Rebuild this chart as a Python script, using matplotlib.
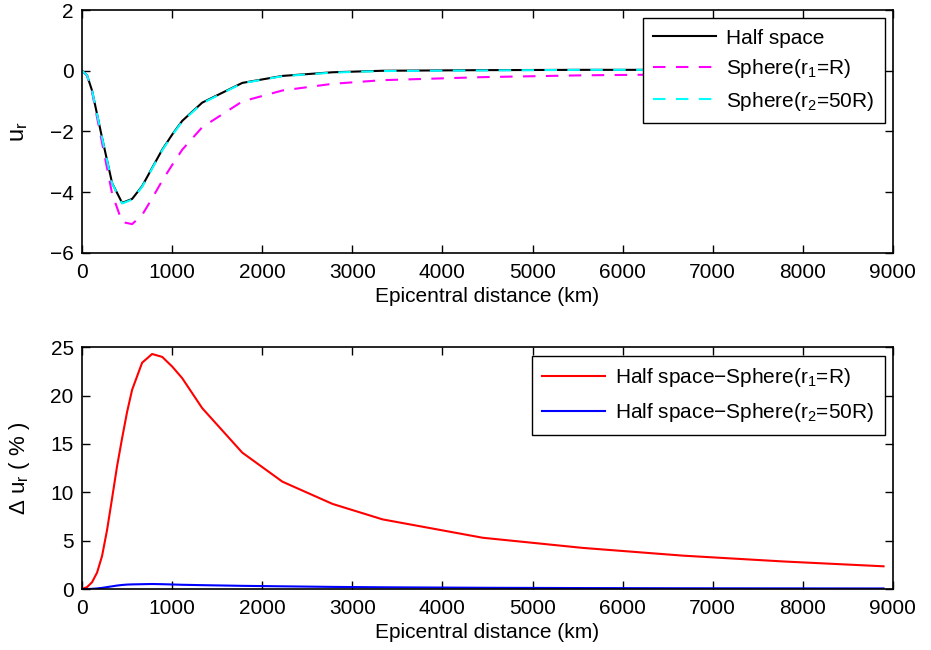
import matplotlib
matplotlib.use("Agg")
import matplotlib.pyplot as plt

plt.rcParams["font.family"] = ["Liberation Sans", "DejaVu Sans"]
plt.rcParams["mathtext.fontset"] = "custom"
plt.rcParams["mathtext.rm"] = "Liberation Sans"
plt.rcParams["mathtext.it"] = "Liberation Sans"

# epicentral distance (km), sampled at whole degrees
dist_km = [0, 55.6, 111, 222, 334, 445, 556, 667, 778, 890, 1001, 1112,
           1334, 1779, 2224, 2780, 3336, 4448, 5560, 6672, 7784, 8896]

# radial displacement u_r
u_half = [0, -0.15, -0.65, -2.2, -3.7, -4.35, -4.22, -3.8, -3.2, -2.6, -2.1,
          -1.65, -1.05, -0.4, -0.17, -0.05, 0.0, 0.02, 0.03, 0.03, 0.02, 0.0]
u_sphere_r1 = [0, -0.16, -0.69, -2.37, -4.05, -4.98, -5.05, -4.75, -4.2,
               -3.62, -3.1, -2.6, -1.86, -1.01, -0.65, -0.43, -0.31, -0.21,
               -0.15, -0.12, -0.1, -0.08]
u_sphere_r2 = [0, -0.15, -0.65, -2.2, -3.71, -4.37, -4.24, -3.82, -3.22,
               -2.62, -2.12, -1.67, -1.07, -0.41, -0.18, -0.06, -0.01, 0.01,
               0.03, 0.03, 0.02, 0.0]

# relative difference (%), finer sampling near the source
dist_diff_km = [0, 55.6, 111, 167, 222, 278, 334, 389, 445, 500, 556, 667,
                778, 890, 1001, 1112, 1334, 1779, 2224, 2780, 3336, 4448,
                5560, 6672, 7784, 8896]
d_r1 = [0, 0.2, 0.7, 1.7, 3.4, 6.1, 9.4, 12.7, 15.6, 18.3, 20.6, 23.4,
        24.3, 24.0, 23.0, 21.8, 18.7, 14.1, 11.1, 8.8, 7.2, 5.3, 4.25, 3.45,
        2.85, 2.35]
d_r2 = [0, 0.0, 0.02, 0.06, 0.12, 0.2, 0.28, 0.36, 0.42, 0.46, 0.48, 0.5,
        0.52, 0.5, 0.47, 0.44, 0.4, 0.33, 0.28, 0.22, 0.18, 0.13, 0.1, 0.08,
        0.07, 0.06]

fig = plt.figure(figsize=(9.31, 6.5), dpi=100)
ax1 = fig.add_axes([0.0881, 0.6108, 0.871, 0.3738])
ax2 = fig.add_axes([0.0881, 0.0938, 0.871, 0.372])

ax1.plot(dist_km, u_half, color="black", lw=1.5, label="Half space")
ax1.plot(dist_km, u_sphere_r1, color="magenta", lw=1.5, dashes=(6, 5),
         label=r"Sphere(r$_\mathregular{1}$=R)")
ax1.plot(dist_km, u_sphere_r2, color="cyan", lw=1.5, dashes=(6, 5),
         label=r"Sphere(r$_\mathregular{2}$=50R)")
ax1.set_xlim(0, 9000)
ax1.set_ylim(-6, 2)
ax1.set_yticks([-6, -4, -2, 0, 2])
ax1.set_ylabel(r"u$_\mathregular{r}$", fontsize=17, labelpad=14)

ax2.plot(dist_diff_km, d_r1, color="red", lw=1.5,
         label=r"Half space$-$Sphere(r$_\mathregular{1}$=R)")
ax2.plot(dist_diff_km, d_r2, color="blue", lw=1.5,
         label=r"Half space$-$Sphere(r$_\mathregular{2}$=50R)")
ax2.set_xlim(0, 9000)
ax2.set_ylim(0, 25)
ax2.set_ylabel(r"$\Delta$ u$_\mathregular{r}$ ( % )", fontsize=16, labelpad=13)

for ax, spacing in ((ax1, 0.45), (ax2, 0.6)):
    ax.set_xticks(range(0, 9001, 1000))
    ax.set_xlabel("Epicentral distance (km)", fontsize=15, labelpad=4)
    ax.tick_params(direction="in", top=True, right=True, length=6,
                   width=1, labelsize=15)
    ax.tick_params(axis="x", pad=7)
    ax.tick_params(axis="y", pad=6)
    for s in ax.spines.values():
        s.set_linewidth(1.2)
    leg = ax.legend(loc="upper right", fontsize=15, handlelength=3.0,
                    handletextpad=0.5, fancybox=False, edgecolor="black",
                    framealpha=1, borderaxespad=0.4, labelspacing=spacing,
                    borderpad=0.5)
    leg.get_frame().set_linewidth(1.0)

fig.savefig("out.png", dpi=100)
